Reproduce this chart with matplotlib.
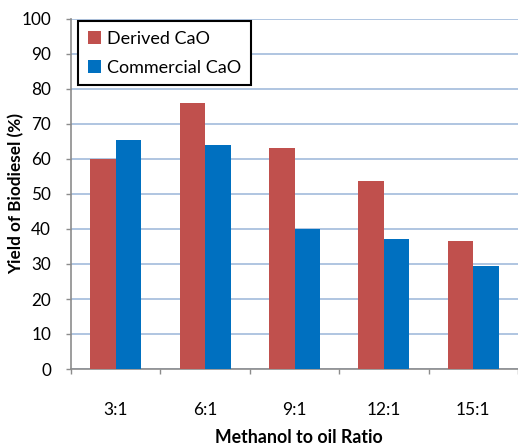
import matplotlib
matplotlib.use("Agg")
import matplotlib.pyplot as plt
import numpy as np
from matplotlib.ticker import FixedLocator

plt.rcParams['font.family'] = ['Lato', 'DejaVu Sans']

ratios = ["3:1", "6:1", "9:1", "12:1", "15:1"]
derived_cao = [60.0, 75.9, 63.0, 53.7, 36.5]
commercial_cao = [65.3, 63.9, 40.0, 37.1, 29.4]
yticks = list(range(0, 101, 10))

red = "#C0504D"
blue = "#0070C0"
grid_col = "#A9C0DE"
axis_col = "#8C8C8C"

fig = plt.figure(figsize=(5.18, 4.44), dpi=100)
ax = fig.add_axes([71 / 518, 1 - 369 / 444, 447 / 518, 350 / 444])

x = np.arange(len(ratios))
w = 0.285
ax.bar(x - w / 2, derived_cao, width=w, color=red, label="Derived CaO", zorder=3)
ax.bar(x + w / 2, commercial_cao, width=w, color=blue, label="Commercial CaO", zorder=3)

ax.set_xlim(-0.5, len(ratios) - 0.5)
ax.set_ylim(0, 100)
ax.set_yticks(yticks)
ax.yaxis.grid(True, color=grid_col, linewidth=1.3, zorder=0)
ax.set_axisbelow(True)

# Category boundaries get tick marks; labels sit at the centers
ax.xaxis.set_major_locator(FixedLocator(np.arange(-0.5, len(ratios), 1.0)))
ax.xaxis.set_minor_locator(FixedLocator(x))
ax.set_xticklabels([])
ax.set_xticklabels(ratios, minor=True)
ax.tick_params(axis='x', which='major', length=3.8, width=1, color=axis_col, direction='out')
ax.tick_params(axis='x', which='minor', length=0, pad=24, labelsize=12.5)
ax.tick_params(axis='y', length=3.8, width=1, color=axis_col, labelsize=12.3, pad=10.5)

for side in ("top", "right"):
    ax.spines[side].set_visible(False)
for side in ("left", "bottom"):
    ax.spines[side].set_color(axis_col)
    ax.spines[side].set_linewidth(1.2)

fig.text(16 / 518, 1 - 194 / 444, "Yield of Biodiesel (%)", fontsize=12.3,
         fontweight='bold', ha='center', va='center', rotation=90)
fig.text(299 / 518, 1 - 437 / 444, "Methanol to oil Ratio", fontsize=12.8,
         fontweight='bold', ha='center', va='center')

leg = ax.legend(loc='upper left', bbox_to_anchor=(7 / 447, 348 / 350),
                frameon=True, fancybox=False, fontsize=13,
                handlelength=0.75, handleheight=0.75, handletextpad=0.3,
                labelspacing=0.7, borderpad=0.55, borderaxespad=0)
leg.get_frame().set_edgecolor('black')
leg.get_frame().set_linewidth(1.5)
leg.get_frame().set_alpha(1)

fig.savefig("out.png", dpi=100)
